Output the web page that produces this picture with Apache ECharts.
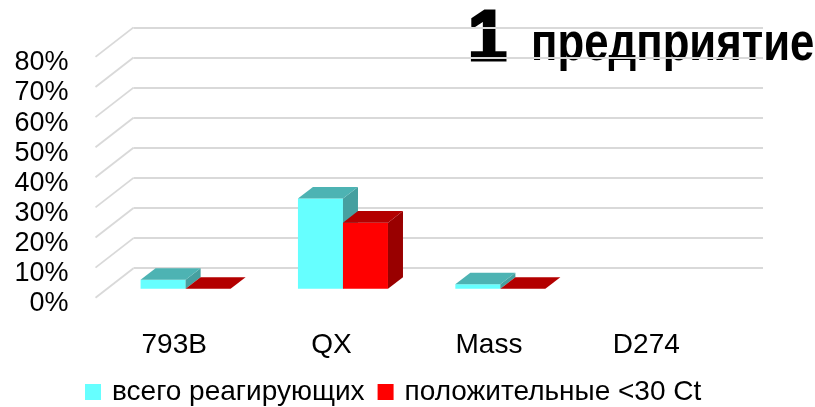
<!DOCTYPE html>
<html>
<head>
<meta charset="utf-8">
<script src="https://cdn.jsdelivr.net/npm/echarts@6/dist/echarts.min.js"></script>
<style>
  html, body { margin: 0; padding: 0; background: #ffffff; }
  #chart { width: 815px; height: 407px; }
</style>
</head>
<body>
<div id="chart"></div>
<script>
// Strains and share of samples per group (percent)
const categories = ['793B', 'QX', 'Mass', 'D274'];
const totalReacting = [3, 30, 1.5, null];
const positiveUnder30 = [0, 22, 0, null];
const seriesNames = ['всего реагирующих', 'положительные <30 Ct'];
const yTicks = [0, 10, 20, 30, 40, 50, 60, 70, 80];
const titleNumber = '1';
const titleWord = 'предприятие';

// Oblique projection: full depth of the floor, and where a bar sits inside it
const DEPTH = { dx: 38, dy: -29.5 };
const BAR_FRONT = 0.30;   // fraction of depth in front of the bars
const BAR_DEPTH = 0.395;  // fraction of depth taken by a bar
const BAR_FRAC = 0.286;   // bar width as a share of the category band

const FONT = '"Liberation Sans", Arial, sans-serif';
const GRID_COLOR = '#d9d9d9';

const front = { left: 95.5, top: 56.9, width: 629.5, height: 240.8 };
const back = {
  left: front.left + DEPTH.dx,
  top: front.top + DEPTH.dy,
  width: front.width,
  height: front.height
};

const palettes = [
  { front: '#66ffff', top: '#4db3b3', side: '#46a0a0' },
  { front: '#ff0000', top: '#b30000', side: '#990000' }
];

function makeBarRenderer(slot, pal) {
  return function (params, api) {
    const v = api.value(1);
    if (v === null || v === undefined || isNaN(v)) return;
    const cat = api.value(0);
    const base = api.coord([cat, 0]);
    const top = api.coord([cat, v]);
    const band = api.size([1, 0])[0];
    const w = band * BAR_FRAC;
    const ox = DEPTH.dx * BAR_FRONT, oy = DEPTH.dy * BAR_FRONT;
    const bx = DEPTH.dx * BAR_DEPTH, by = DEPTH.dy * BAR_DEPTH;
    const x0 = base[0] - w + slot * w + ox;
    const x1 = x0 + w;
    const yb = base[1] + oy;
    const yt = top[1] + oy;
    return {
      type: 'group',
      children: [
        { type: 'polygon', shape: { points: [[x0, yb], [x1, yb], [x1, yt], [x0, yt]] },
          style: { fill: pal.front } },
        { type: 'polygon', shape: { points: [[x1, yb], [x1 + bx, yb + by], [x1 + bx, yt + by], [x1, yt]] },
          style: { fill: pal.side } },
        { type: 'polygon', shape: { points: [[x0, yt], [x1, yt], [x1 + bx, yt + by], [x0 + bx, yt + by]] },
          style: { fill: pal.top } }
      ]
    };
  };
}

// Side-wall lines running from the front edge back to the rear wall
function renderWallLine(params, api) {
  const y = api.coord([0, api.value(1)])[1];
  const x = params.coordSys.x;
  return {
    type: 'line',
    shape: { x1: x, y1: y, x2: x + DEPTH.dx, y2: y + DEPTH.dy },
    style: { stroke: GRID_COLOR, lineWidth: 1.8 }
  };
}

const chart = echarts.init(document.getElementById('chart'), null, { renderer: 'canvas' });

chart.setOption({
  backgroundColor: '#ffffff',
  animation: false,
  textStyle: { fontFamily: FONT },
  grid: [
    Object.assign({}, front, { containLabel: false }),
    Object.assign({}, back, { containLabel: false })
  ],
  xAxis: [
    {
      gridIndex: 0, type: 'category', data: categories, boundaryGap: true,
      axisLine: { show: false }, axisTick: { show: false }, splitLine: { show: false },
      axisLabel: { color: '#000', fontSize: 28, fontFamily: FONT, margin: 34, interval: 0 }
    },
    {
      gridIndex: 1, type: 'category', data: categories, show: false
    }
  ],
  yAxis: [
    {
      gridIndex: 0, type: 'value', min: 0, max: 80, interval: 10,
      axisLine: { show: false }, axisTick: { show: false }, splitLine: { show: false },
      axisLabel: { color: '#000', fontSize: 27, fontFamily: FONT, margin: 27,
                   verticalAlign: 'top', lineHeight: 12, formatter: '{value}%' }
    },
    {
      gridIndex: 1, type: 'value', min: 0, max: 80, interval: 10,
      axisLine: { show: false }, axisTick: { show: false }, axisLabel: { show: false },
      splitLine: { show: true, lineStyle: { color: GRID_COLOR, width: 1.8 } }
    }
  ],
  legend: {
    left: 85, top: 378, padding: 0,
    itemWidth: 16, itemHeight: 16, itemGap: 13,
    icon: 'rect',
    textStyle: { color: '#000', fontSize: 28, fontFamily: FONT, padding: [0, 0, 0, 6] },
    data: [
      { name: seriesNames[0], itemStyle: { color: palettes[0].front } },
      { name: seriesNames[1], itemStyle: { color: palettes[1].front } }
    ]
  },
  graphic: [
    {
      type: 'text', x: 468, y: 41,
      style: { text: titleNumber, font: 'bold 70px ' + FONT, fill: '#000',
               stroke: '#000', lineWidth: 3, lineJoin: 'round',
               align: 'left', verticalAlign: 'middle' }
    },
    {
      type: 'text', x: 531, y: 45, scaleX: 0.81, scaleY: 1,
      style: { text: titleWord, font: 'bold 54px ' + FONT, fill: '#000',
               align: 'left', verticalAlign: 'middle' }
    }
  ],
  series: [
    {
      name: 'wall', type: 'custom', xAxisIndex: 0, yAxisIndex: 0, z: 1, silent: true,
      renderItem: renderWallLine,
      data: yTicks.map(function (t) { return [0, t]; })
    },
    {
      name: seriesNames[0], type: 'custom', xAxisIndex: 0, yAxisIndex: 0, z: 3,
      itemStyle: { color: palettes[0].front },
      renderItem: makeBarRenderer(0, palettes[0]),
      data: totalReacting.map(function (v, i) { return [i, v === null ? '-' : v]; })
    },
    {
      name: seriesNames[1], type: 'custom', xAxisIndex: 0, yAxisIndex: 0, z: 4,
      itemStyle: { color: palettes[1].front },
      renderItem: makeBarRenderer(1, palettes[1]),
      data: positiveUnder30.map(function (v, i) { return [i, v === null ? '-' : v]; })
    }
  ]
});
</script>
</body>
</html>
